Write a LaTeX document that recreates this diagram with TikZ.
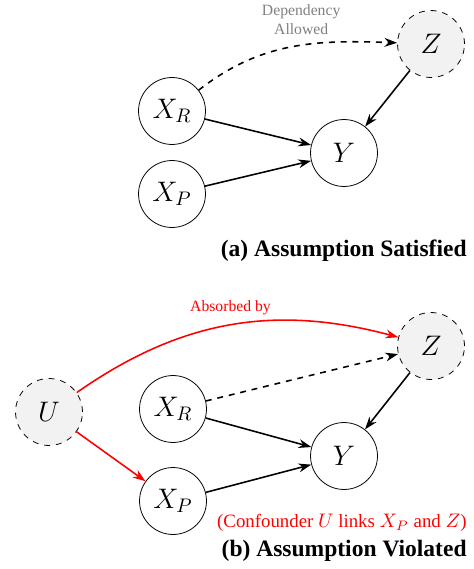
\documentclass[tikz,border=0pt]{standalone}
\usepackage{fontspec}
\setmainfont{Liberation Serif}
\usepackage{amsmath,amssymb}
\usetikzlibrary{positioning,arrows.meta,calc}
\definecolor{latFill}{RGB}{242,242,242}
\definecolor{viaRed}{RGB}{255,0,0}

\begin{document}
\begin{tikzpicture}[x=0.51pt, y=-0.51pt,
  varnode/.style={circle, draw, thin, minimum size=1.2cm, inner sep=0pt, font=\Large},
  hidnode/.style={varnode, dashed, fill=latFill},
  causal/.style={-{Stealth[length=6.5pt,width=4.5pt]}, thick},
  redlink/.style={causal, viaRed},
  caption/.style={anchor=east, inner sep=0pt, font=\large\bfseries}]
  \useasboundingbox (0,0) rectangle (473,569);
  % (a)
  \node[hidnode] (za) at (431,44) {$Z$};
  \node[varnode] (xra) at (172,111) {$X_R$};
  \node[varnode] (ya) at (344,153) {$Y$};
  \node[varnode] (xpa) at (172,194) {$X_P$};
  \draw[causal, dashed] (xra) to[out=38,in=178]
    node[pos=0.55, above=5pt, align=center, text=gray, font=\footnotesize, inner sep=0pt] {Dependency\\Allowed} (za);
  \draw[causal] (xra) -- (ya);
  \draw[causal] (xpa) -- (ya);
  \draw[causal] (za) -- (ya);
  \node[caption] (capa) at (467,251) {(a) Assumption Satisfied};
  % (b)
  \node[hidnode] (zb) at (431,346) {$Z$};
  \node[hidnode] (ub) at (49,412) {$U$};
  \node[varnode] (xrb) at (173,409) {$X_R$};
  \node[varnode] (yb) at (344,456) {$Y$};
  \node[varnode] (xpb) at (173,501) {$X_P$};
  \draw[redlink] (ub) to[out=35,in=165]
    node[pos=0.5, above=5pt, text=viaRed, font=\footnotesize, inner sep=0pt] {Absorbed by} (zb);
  \draw[redlink] (ub) -- (xpb);
  \draw[causal, dashed] (xrb) -- (zb);
  \draw[causal] (xrb) -- (yb);
  \draw[causal] (xpb) -- (yb);
  \draw[causal] (zb) -- (yb);
  \node[anchor=east, inner sep=0pt, text=viaRed, font=\fontsize{9.6}{11}\selectfont] (conf) at (467,523) {(Confounder $U$ links $X_P$ and $Z$)};
  \node[caption] (capb) at (467,551) {(b) Assumption Violated};
\end{tikzpicture}
\end{document}
